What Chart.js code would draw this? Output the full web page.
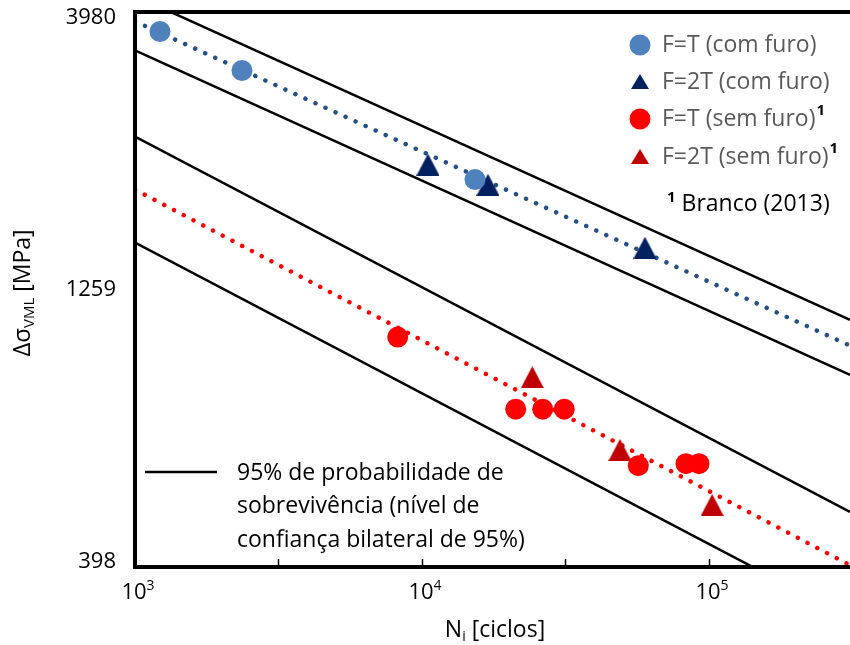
<!DOCTYPE html>
<html>
<head>
<meta charset="utf-8">
<script src="https://cdn.jsdelivr.net/npm/chart.js@4.4.1/dist/chart.umd.min.js"></script>
<style>
html, body { margin: 0; padding: 0; background: #fff; }
</style>
</head>
<body>
<canvas id="snChart" width="850" height="645"></canvas>
<script>
// axis ranges and tick values
const xRange = [1000, 310000];
const yRange = [398, 3980];
const yTickValues = [398, 1259, 3980];
const yTickLabels = ['398', '1259', '3980'];
const xTickValues = [1000, 10000, 100000];
const xTickExponents = ['3', '4', '5'];
const xTickMarks = [3162, 10000, 31623, 100000];

// F=T (com furo)
const ftComN = [1222, 2359, 15300];
const ftComS = [3671, 3122, 1986];
// F=2T (com furo)
const f2tComN = [10490, 16980, 59840];
const f2tComS = [2113, 1944, 1497];
// F=T (sem furo) - Branco (2013)
const ftSemN = [8229, 21210, 26340, 31310, 56720, 83160, 92300];
const ftSemS = [1033, 766, 766, 766, 606, 611, 611];
// F=2T (sem furo) - Branco (2013)
const f2tSemN = [24230, 48970, 102600];
const f2tSemS = [875, 647, 515];

// trend lines (end points)
const trendN = [1000, 310000];
const trendComS = [3828, 997];
const trendSemS = [1905, 401];

// 95% survival bands (end points)
const bandN = [1000, 310000];
const band1S = [4257, 1110];
const band2S = [3393, 883];
const band3S = [2374, 500];
const band4S = [1529, 322];

const FONT = '"Open Sans", Lato, sans-serif';

function pts(xs, ys) {
    return xs.map((x, i) => ({ x: x, y: ys[i] }));
}

// excel-like triangle marker
function triangle(color, w, h) {
    let c = document.createElement('canvas');
    c.width = w;
    c.height = h;
    let g = c.getContext('2d');
    g.fillStyle = color;
    g.beginPath();
    g.moveTo(w / 2, 0);
    g.lineTo(w, h);
    g.lineTo(0, h);
    g.closePath();
    g.fill();
    return c;
}

const navyTri = triangle('#002060', 23, 22);
const redTri = triangle('#C00000', 23, 22);

function bandLine(ys) {
    return {
        data: pts(bandN, ys),
        showLine: true,
        pointRadius: 0,
        borderColor: '#000',
        borderWidth: 2.5,
        order: 3
    };
}

function trendLine(ys, color) {
    return {
        data: pts(trendN, ys),
        showLine: true,
        pointRadius: 0,
        borderColor: color,
        borderWidth: 4.5,
        borderDash: [0.01, 11],
        borderCapStyle: 'round',
        order: 2
    };
}

// text with a sub/superscript part
function drawRich(ctx, parts, x, y, align) {
    let total = 0;
    parts.forEach(p => {
        ctx.font = p.font;
        p.w = ctx.measureText(p.text).width;
        total += p.w;
    });
    let cx = align === 'center' ? x - total / 2 : (align === 'right' ? x - total : x);
    ctx.textAlign = 'left';
    parts.forEach(p => {
        ctx.font = p.font;
        ctx.fillStyle = p.color || '#000';
        ctx.fillText(p.text, cx, y + (p.dy || 0));
        cx += p.w;
    });
    return cx;
}

const decorations = {
    id: 'decorations',
    afterDraw(chart) {
        const ctx = chart.ctx;
        const area = chart.chartArea;
        const xs = chart.scales.x;
        const ys = chart.scales.y;
        ctx.save();

        // x tick marks (inside)
        ctx.strokeStyle = '#000';
        ctx.lineWidth = 1.5;
        xTickMarks.forEach(v => {
            let px = Math.round(xs.getPixelForValue(v)) + 0.5;
            ctx.beginPath();
            ctx.moveTo(px, area.bottom);
            ctx.lineTo(px, area.bottom - 8);
            ctx.stroke();
        });

        // axis frame
        ctx.lineWidth = 4;
        ctx.beginPath();
        ctx.moveTo(area.right + 5, area.top);
        ctx.lineTo(area.left, area.top);
        ctx.lineTo(area.left, area.bottom);
        ctx.lineTo(area.right + 5, area.bottom);
        ctx.stroke();

        ctx.textBaseline = 'middle';

        // y tick labels
        ctx.font = '22px ' + FONT;
        ctx.fillStyle = '#000';
        ctx.textAlign = 'right';
        yTickValues.forEach((v, i) => {
            let py = ys.getPixelForValue(v);
            py = Math.max(area.top + 6, Math.min(area.bottom - 5, py));
            ctx.fillText(yTickLabels[i], 116, py);
        });

        // x tick labels 10^n
        xTickValues.forEach((v, i) => {
            let px = xs.getPixelForValue(v) + 3;
            drawRich(ctx, [
                { text: '10', font: '22px ' + FONT },
                { text: xTickExponents[i], font: '14px ' + FONT, dy: -7 }
            ], px, 593, 'center');
        });

        // x title
        drawRich(ctx, [
            { text: 'N', font: '23px ' + FONT },
            { text: 'i', font: '14px ' + FONT, dy: 7 },
            { text: ' [ciclos]', font: '23px ' + FONT }
        ], 495, 630, 'center');

        // y title
        ctx.save();
        ctx.translate(23, 293);
        ctx.rotate(-Math.PI / 2);
        drawRich(ctx, [
            { text: 'Δσ', font: '24px ' + FONT },
            { text: 'VML', font: '15px ' + FONT, dy: 7 },
            { text: ' [MPa]', font: '23px ' + FONT }
        ], 0, 0, 'center');
        ctx.restore();

        // legend, top right
        const legendItems = [
            { text: 'F=T (com furo)', color: '#4F81BD', marker: 'circle', sup: false },
            { text: 'F=2T (com furo)', color: '#002060', marker: 'tri', sup: false },
            { text: 'F=T (sem furo)', color: '#FF0000', marker: 'circle', sup: true },
            { text: 'F=2T (sem furo)', color: '#C00000', marker: 'tri', sup: true }
        ];
        const legendY = [45, 82, 119, 157];
        legendItems.forEach((item, i) => {
            let y = legendY[i];
            ctx.fillStyle = item.color;
            ctx.beginPath();
            if (item.marker === 'circle') {
                ctx.arc(640, y, 10.5, 0, Math.PI * 2);
            } else {
                ctx.moveTo(640, y - 8);
                ctx.lineTo(649, y + 7);
                ctx.lineTo(631, y + 7);
                ctx.closePath();
            }
            ctx.fill();
            let end = drawRich(ctx, [{ text: item.text, font: '23px ' + FONT, color: '#595959' }], 662, y, 'left');
            if (item.sup) {
                drawRich(ctx, [{ text: '1', font: 'bold 15px ' + FONT }], end + 1, y - 8, 'left');
            }
        });
        drawRich(ctx, [
            { text: '1', font: 'bold 15px ' + FONT, dy: -6 },
            { text: ' Branco (2013)', font: '23px ' + FONT }
        ], 667, 204, 'left');

        // legend, bottom left
        ctx.strokeStyle = '#000';
        ctx.lineWidth = 2.5;
        ctx.beginPath();
        ctx.moveTo(145, 472);
        ctx.lineTo(217, 472);
        ctx.stroke();
        const noteLines = ['95% de probabilidade de', 'sobrevivência (nível de', 'confiança bilateral de 95%)'];
        ctx.font = '23px ' + FONT;
        ctx.fillStyle = '#000';
        ctx.textAlign = 'left';
        noteLines.forEach((t, i) => ctx.fillText(t, 237, 473 + i * 33.5));

        ctx.restore();
    }
};

const ctx = document.getElementById('snChart').getContext('2d');
const snChart = new Chart(ctx, {
    type: 'scatter',
    data: {
        datasets: [
            { label: 'F=T (com furo)', data: pts(ftComN, ftComS), pointStyle: 'circle', pointRadius: 10.5, backgroundColor: '#4F81BD', borderWidth: 0, order: 0 },
            { label: 'F=2T (com furo)', data: pts(f2tComN, f2tComS), pointStyle: navyTri, pointRadius: 11, order: 0 },
            { label: 'F=T (sem furo)', data: pts(ftSemN, ftSemS), pointStyle: 'circle', pointRadius: 10.5, backgroundColor: '#FF0000', borderWidth: 0, order: 0 },
            { label: 'F=2T (sem furo)', data: pts(f2tSemN, f2tSemS), pointStyle: redTri, pointRadius: 11, order: 0 },
            trendLine(trendComS, '#255086'),
            trendLine(trendSemS, '#FF0000'),
            bandLine(band1S),
            bandLine(band2S),
            bandLine(band3S),
            bandLine(band4S)
        ]
    },
    options: {
        responsive: false,
        animation: false,
        layout: {
            autoPadding: false,
            padding: { left: 135, top: 12, right: 0, bottom: 78 }
        },
        plugins: {
            legend: { display: false },
            tooltip: { enabled: false }
        },
        scales: {
            x: { type: 'logarithmic', min: xRange[0], max: xRange[1], display: false },
            y: { type: 'logarithmic', min: yRange[0], max: yRange[1], display: false }
        }
    },
    plugins: [decorations]
});
</script>
</body>
</html>
